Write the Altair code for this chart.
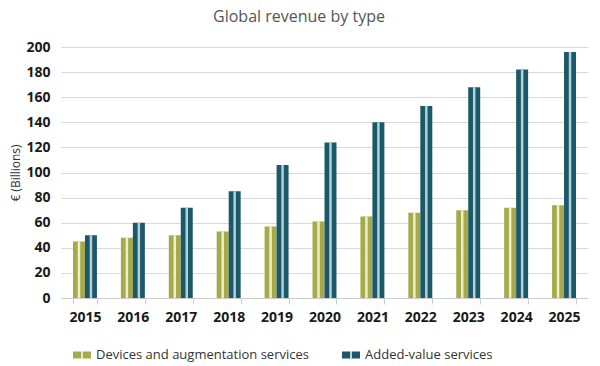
import altair as alt
import pandas as pd

years = ["2015", "2016", "2017", "2018", "2019", "2020", "2021", "2022", "2023", "2024", "2025"]
devices = [45, 48, 50, 53, 57, 61, 65, 68, 70, 72, 74]
added = [50, 60, 72, 85, 106, 124, 140, 153, 168, 182, 196]
series = ["Devices and augmentation services", "Added-value services"]

rows = []
for i, y in enumerate(years):
    rows.append({"year": y, "series": series[0], "value": devices[i]})
    rows.append({"year": y, "series": series[1], "value": added[i]})
df = pd.DataFrame(rows)

font = "Open Sans"

x_enc = alt.X("year:N", title=None, sort=years,
              scale=alt.Scale(paddingInner=0.5, paddingOuter=0.25),
              axis=alt.Axis(labelAngle=0, labelFont=font, labelFontWeight="bold",
                            labelFontSize=14, labelColor="#1a1a1a", tickBand="extent",
                            domainColor="#cccccc", tickColor="#cccccc", tickSize=6,
                            labelPadding=6))
xo_enc = alt.XOffset("series:N", sort=series, scale=alt.Scale(domain=series, paddingInner=0))
y_enc = alt.Y("value:Q", title="€ (Billions)",
              scale=alt.Scale(domain=[0, 200]),
              axis=alt.Axis(values=list(range(0, 201, 20)), labelOverlap=False,
                            labelFont=font, labelFontWeight="bold",
                            labelFontSize=14, labelColor="#1a1a1a", domain=False, ticks=False,
                            gridColor="#d9d9d9", labelPadding=11,
                            titleFont=font, titleFontWeight="normal", titleFontSize=12,
                            titleColor="#333333", titlePadding=3))

double_square = "M-1,-0.4H-0.08V0.4H-1Z M0.08,-0.4H1V0.4H0.08Z"

base = alt.Chart(df)

bars = base.mark_bar().encode(
    x=x_enc, xOffset=xo_enc, y=y_enc,
    color=alt.Color("series:N", sort=series,
                    scale=alt.Scale(domain=series, range=["#a6aa4a", "#1b5868"]),
                    legend=alt.Legend(title=None, orient="none", legendX=12, legendY=299,
                                      padding=0, direction="horizontal",
                                      symbolType=double_square, symbolSize=324,
                                      symbolStrokeWidth=0, labelOffset=5,
                                      labelFont=font, labelFontSize=13,
                                      labelColor="#333333", columnPadding=33,
                                      labelLimit=400))
)

highlight = base.mark_bar(width=2.5).encode(
    x=x_enc, xOffset=xo_enc, y=y_enc,
    color=alt.Color("series:N", sort=series,
                    scale=alt.Scale(domain=series, range=["#eeedcc", "#b3d0dc"]),
                    legend=None)
)

chart = alt.layer(bars, highlight).resolve_scale(color="independent").properties(
    width=527, height=251,
    padding={"left": 1, "top": 1, "right": 0, "bottom": 0},
    title=alt.TitleParams("Global revenue by type", font=font, fontSize=16,
                          fontWeight="normal", color="#555555", offset=15, frame="bounds")
).configure_view(stroke=None)

chart.save("out.html", embed_options={"renderer": "svg", "actions": False})
